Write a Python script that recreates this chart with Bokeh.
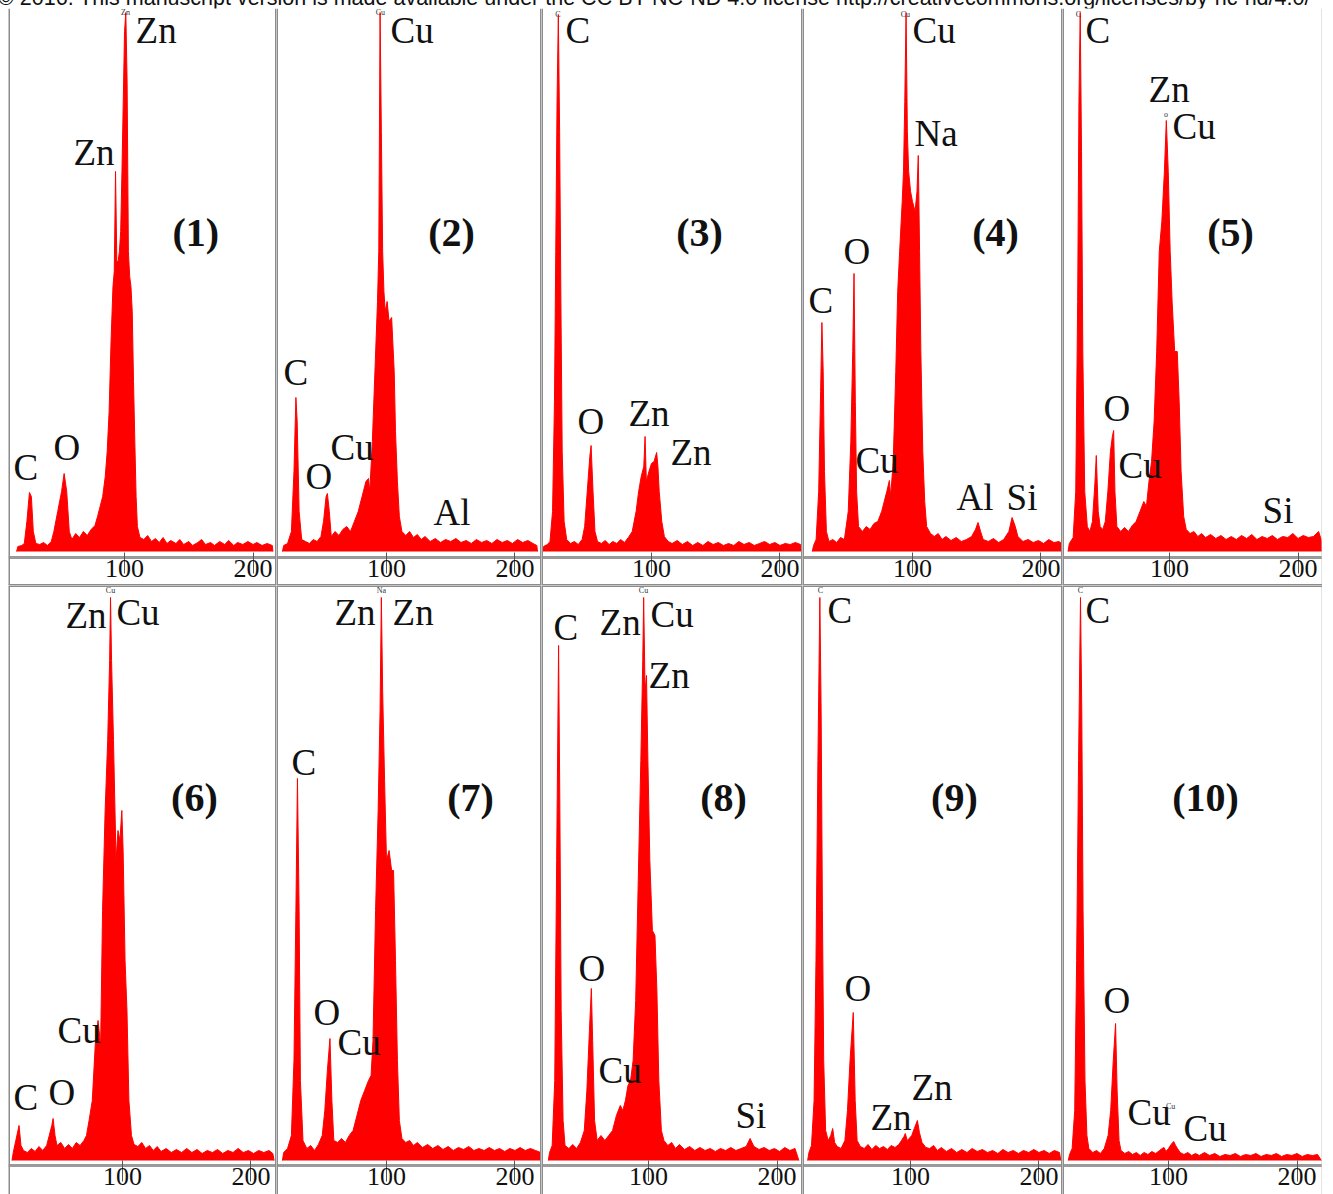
from bokeh.plotting import figure
from bokeh.models import Range1d, LinearAxis, FixedTicker, Span, Div
from bokeh.layouts import row, column
from bokeh.core.properties import value
from bokeh.embed import file_html
from bokeh.resources import INLINE

header_text = ("© 2016. This manuscript version is made available under the CC BY-NC-ND 4.0 "
               "license http://creativecommons.org/licenses/by-nc-nd/4.0/")

tick_values = [100, 200]
panel_names = ["(1)", "(2)", "(3)", "(4)", "(5)", "(6)", "(7)", "(8)", "(9)", "(10)"]

# ---- spectra: (channel, counts) vertices ----
p1_pts = [(16,0),(17,5),(20,6),(22,8),(24,30),(26,59),(27.5,55),(29,20),(31,8),(34,7),(37,9),(40,6),
          (43,10),(45,20),(48,40),(51,60),(53,78),(55,60),(57,20),(59,12),(62,18),(65,14),(68,20),(71,16),
          (74,22),(77,26),(79,35),(81,45),(83,55),(85,75),(86.5,100),(88,140),(89.5,210),(91,265),(92,280),
          (93,380),(94,290),(95,290),(96,300),(97,320),(98,380),(99,450),(100,520),(101,539),(102,470),
          (103,300),(104,275),(105,265),(106,240),(107,170),(108,110),(109,55),(110,25),(112,14),(115,12),
          (118,16),(121,10),(124,13),(127,9),(130,14),(133,8),(136,11),(140,8),(143,12),(146,7),(150,10),
          (153,6),(157,9),(160,12),(163,7),(167,9),(170,6),(174,10),(178,7),(181,11),(185,6),(188,9),
          (192,7),(196,10),(200,7),(203,9),(207,6),(211,8),(215,6),(215.5,0)]
p2_pts = [(19,0),(20,6),(23,8),(26,20),(28,80),(29.5,154),(30.5,130),(32,40),(34,12),(37,10),(40,8),
          (43,12),(46,10),(49,15),(51,30),(53,55),(54,58),(55.5,40),(57,15),(60,20),(63,16),(66,22),
          (69,25),(72,20),(75,30),(78,40),(81,55),(84,70),(86,73),(87,60),(89,110),(91,180),(93,250),
          (94,300),(95,539),(96,420),(97,300),(98,260),(99,240),(100.5,250),(102,230),(104,234),(106,180),
          (107,120),(108.5,70),(110,35),(112,20),(115,16),(118,20),(121,14),(124,17),(127,12),(130,15),
          (134,10),(138,13),(142,9),(146,12),(150,10),(154,13),(158,9),(162,11),(166,8),(170,12),(174,9),
          (178,11),(182,8),(186,12),(190,9),(194,11),(198,8),(202,12),(206,9),(210,11),(214,8),(217,6),
          (217.5,0)]
p3_pts = [(15,0),(16,5),(19,7),(21,10),(23,40),(24.5,150),(25.5,300),(26.5,450),(27.5,537),(28.5,420),
          (29.5,250),(30.5,100),(32,30),(34,12),(37,8),(40,10),(43,7),(46,12),(48,25),(50,60),(52,95),
          (53,106),(54.5,60),(56,20),(58,10),(61,8),(64,11),(67,7),(70,10),(73,8),(76,12),(79,9),(82,14),
          (85,20),(88,40),(90,60),(92,75),(94,85),(95,115),(96,70),(98,80),(100,88),(102,90),(104,99),
          (105,85),(106,60),(108,30),(110,15),(113,10),(116,8),(120,11),(124,7),(128,10),(132,6),(136,9),
          (140,6),(144,10),(148,7),(152,9),(156,6),(160,8),(164,6),(168,10),(172,7),(176,9),(180,6),
          (184,8),(188,10),(192,7),(196,9),(200,6),(204,8),(208,7),(212,9),(216,7),(217,0)]
p4_pts = [(22,0),(23,6),(25,12),(27,60),(28.5,160),(29.5,229),(30.5,180),(31.5,80),(33,20),(35,10),
          (38,12),(41,9),(44,14),(47,12),(50,40),(52,110),(53.5,200),(54.5,278),(55.5,150),(56.5,60),
          (58,25),(61,20),(64,25),(67,22),(70,28),(73,30),(76,40),(78,50),(80,60),(82,71),(83,55),(85,90),
          (87,180),(88.5,260),(90,300),(92,350),(93,380),(94,450),(95,539),(96,420),(97,380),(98.5,360),
          (100,350),(102,340),(103.5,360),(104.5,396),(105.5,300),(106.5,200),(108,100),(109.5,50),
          (111,25),(114,18),(117,15),(120,18),(123,12),(126,15),(130,11),(134,14),(138,10),(142,12),
          (146,15),(149,22),(151,29),(153,20),(155,12),(159,10),(163,13),(167,9),(171,12),(175,20),
          (177.5,34),(180,25),(182,15),(186,10),(190,12),(194,9),(198,11),(202,8),(206,12),(210,9),
          (214,10),(216,8),(216.5,0)]
p5_pts = [(21,0),(22,8),(25,14),(27,60),(28.5,250),(29.5,450),(30.5,539),(31.5,400),(32.5,200),(34,60),
          (36,25),(38,20),(40,30),(42,70),(43,96),(44.5,40),(46,25),(48,22),(50,30),(52,60),(54,100),
          (55.5,115),(56.5,121),(57.5,60),(59,25),(62,20),(65,24),(68,20),(71,26),(74,30),(77,40),(80,50),
          (82,45),(84,70),(86,90),(88,130),(90,200),(92,300),(94,330),(96,380),(97.5,431),(99,380),
          (100.5,300),(102,250),(104,200),(106,200),(107.5,150),(109,80),(111,35),(113,22),(116,18),
          (119,20),(122,15),(125,18),(128,14),(132,17),(136,13),(140,16),(144,12),(148,15),(152,12),
          (156,16),(160,13),(164,17),(168,12),(172,15),(176,13),(180,16),(184,12),(188,15),(192,14),
          (196,18),(200,13),(204,16),(208,14),(212,15),(216,20),(218,12),(219,0)]
p6_pts = [(14,0),(15,8),(17,20),(19.5,35),(21,15),(23,10),(26,8),(29,12),(32,9),(35,14),(38,10),(41,15),
          (43,25),(45,35),(46,42),(47.5,25),(49,15),(52,18),(55,12),(58,16),(61,12),(64,18),(67,15),
          (70,20),(72,25),(74,40),(76.5,60),(79,120),(81,140),(83,115),(84.5,250),(86.5,350),(88.5,420),
          (90,500),(90.7,563),(91.5,500),(93,420),(95,300),(96.5,330),(98,320),(99.5,350),(100.5,310),
          (102,200),(103.5,150),(105,60),(107,25),(109,16),(112,14),(115,18),(118,12),(121,15),(124,10),
          (127,14),(130,9),(134,12),(138,8),(142,11),(146,8),(150,12),(154,8),(158,11),(162,7),(166,10),
          (170,8),(174,11),(178,7),(182,10),(186,8),(190,12),(194,8),(198,10),(202,7),(206,10),(210,8),
          (214,10),(217,7),(218,0)]
p7_pts = [(19,0),(20,8),(23,12),(26,25),(28,100),(29.5,250),(30.7,382),(32,250),(33,80),(35,20),(38,12),
          (41,15),(44,10),(47,16),(50,25),(52,50),(54,90),(56,122),(57.5,60),(59,20),(62,18),(65,22),
          (68,18),(71,25),(74,30),(77,45),(80,60),(83,70),(86,80),(88,85),(89.5,120),(91.5,250),
          (93.5,350),(95,450),(96,563),(97,470),(98.5,380),(100,300),(102,310),(104,290),(105.5,290),
          (107,200),(108.5,100),(110,40),(112,22),(115,18),(118,20),(121,15),(124,18),(128,13),(132,16),
          (136,12),(140,15),(144,11),(148,14),(152,10),(156,13),(160,11),(164,14),(168,10),(172,12),
          (176,10),(180,13),(184,10),(188,12),(192,9),(196,12),(200,10),(204,13),(208,10),(212,12),
          (216,10),(220,8),(220.5,0)]
p8_pts = [(22,0),(23,8),(25,15),(27,80),(28.5,300),(30,515),(31,350),(32,150),(33.5,40),(35,15),(38,12),
          (41,16),(44,12),(47,18),(50,30),(52,70),(54,130),(55.5,172),(56.5,120),(58,40),(60,20),(63,25),
          (66,20),(69,25),(72,30),(75,45),(78,55),(80,50),(82,60),(84,75),(86,80),(88,100),(90,160),
          (92,280),(94,400),(95.5,500),(96.2,563),(97.3,470),(98.4,485),(99.5,400),(101,300),(103,230),
          (105,225),(106.5,170),(108,80),(110,30),(112,20),(115,15),(118,18),(121,12),(124,16),(128,11),
          (132,14),(136,10),(140,13),(144,10),(148,12),(152,9),(156,12),(160,10),(164,13),(168,10),
          (172,12),(176,14),(179,22),(182,14),(186,11),(190,13),(194,10),(198,12),(202,9),(206,13),
          (210,10),(214,12),(217,0)]
p9_pts = [(20,0),(21,8),(23,15),(25,60),(26.5,200),(28,400),(29.5,563),(30.5,450),(31.5,250),(32.5,100),
          (34,30),(36,20),(38,25),(39.5,32),(41,18),(43,14),(46,12),(49,20),(51,50),(53,100),(55.5,148),
          (57,60),(58.5,20),(61,14),(64,12),(67,16),(70,11),(73,15),(76,12),(79,14),(82,11),(85,15),
          (88,13),(91,16),(93,20),(95,24),(96,27),(97.5,20),(99,22),(101,25),(103,32),(105.4,40),(107,28),
          (109,18),(112,13),(115,12),(118,15),(121,10),(124,13),(128,9),(132,12),(136,8),(140,11),(144,8),
          (148,12),(152,9),(156,11),(160,8),(164,10),(168,7),(172,11),(176,8),(180,10),(184,7),(188,10),
          (192,8),(196,11),(200,8),(204,10),(208,7),(212,10),(216,8),(217,0)]
p10_pts = [(22,0),(23,6),(25,12),(27,50),(28.5,200),(30,400),(31.5,563),(32.5,450),(33.5,250),(35,80),
           (36.5,25),(38,12),(41,8),(44,10),(47,7),(50,12),(53,25),(55,50),(57,100),(58.8,137),(60,70),
           (61.5,20),(63,10),(66,7),(69,9),(72,6),(75,8),(78,5),(81,8),(84,6),(87,9),(90,7),(93,10),
           (95,12),(96.5,13),(98,9),(100,12),(102,16),(104,19),(105.5,15),(107,12),(109,8),(112,6),
           (115,8),(118,5),(121,7),(124,5),(128,8),(132,5),(136,7),(140,4),(144,6),(148,5),(152,7),
           (156,4),(160,6),(164,5),(168,7),(172,4),(176,6),(180,5),(184,7),(188,4),(192,6),(196,5),
           (200,7),(204,4),(208,6),(212,5),(216,6),(219,0)]

# ---- element labels: (text, channel, counts) ----
p1_labels = [("Zn", 108.6, 521), ("Zn", 60.2, 399), ("C", 13.6, 84), ("O", 44.7, 104)]
p2_labels = [("Cu", 103.1, 521), ("C", 19.8, 179), ("O", 37.0, 75), ("Cu", 56.4, 104), ("Al", 136.6, 39)]
p3_labels = [("C", 33.1, 521), ("O", 42.4, 130), ("Zn", 82.1, 138), ("Zn", 114.8, 99)]
p4_labels = [("Cu", 100.0, 521), ("Na", 101.6, 418), ("C", 19.0, 251), ("O", 46.3, 300),
             ("Cu", 55.6, 91), ("Al", 134.2, 54), ("Si", 173.2, 54)]
p5_labels = [("C", 34.6, 521), ("Zn", 83.7, 462), ("Cu", 102.3, 425), ("O", 48.6, 143),
             ("Cu", 60.3, 86), ("Si", 172.4, 41)]
p6_labels = [("Zn", 55.6, 545), ("Cu", 95.3, 548), ("Cu", 49.4, 130), ("C", 15.2, 63), ("O", 42.4, 68)]
p7_labels = [("Zn", 59.5, 548), ("Zn", 104.7, 548), ("C", 26.0, 398), ("O", 43.2, 148), ("Cu", 61.9, 118)]
p8_labels = [("C", 26.1, 533), ("Zn", 61.9, 538), ("Cu", 101.6, 546), ("Zn", 100.0, 485),
             ("O", 45.5, 192), ("Cu", 61.1, 90), ("Si", 167.7, 45)]
p9_labels = [("C", 35.4, 550), ("O", 48.6, 172), ("Zn", 68.9, 43), ("Zn", 100.8, 73)]
p10_labels = [("C", 35.4, 550), ("O", 49.4, 160), ("Cu", 68.1, 48), ("Cu", 111.7, 32)]

# tiny peak markers printed at the peak tops
p1_tiny = [("Zn", 100.8, 535)]
p2_tiny = [("Cu", 95.3, 535)]
p3_tiny = [("C", 27.2, 533)]
p4_tiny = [("Cu", 94.5, 533)]
p5_tiny = [("C", 29.0, 533), ("o", 97.2, 433)]
p6_tiny = [("Cu", 90.7, 566)]
p7_tiny = [("Na", 96.0, 566)]
p8_tiny = [("Cu", 96.1, 566)]
p9_tiny = [("C", 30.0, 566)]
p10_tiny = [("C", 31.5, 566), ("Cu", 101.6, 50)]

# panel number anchors (channel, counts)
name_pos = [(155.5, 319), (150.6, 319), (137.4, 319), (164.6, 319), (147.5, 319),
            (156.0, 363), (165.4, 363), (158.4, 363), (134.2, 363), (128.8, 363)]

spectra = [p1_pts, p2_pts, p3_pts, p4_pts, p5_pts, p6_pts, p7_pts, p8_pts, p9_pts, p10_pts]
labels = [p1_labels, p2_labels, p3_labels, p4_labels, p5_labels,
          p6_labels, p7_labels, p8_labels, p9_labels, p10_labels]
tiny = [p1_tiny, p2_tiny, p3_tiny, p4_tiny, p5_tiny, p6_tiny, p7_tiny, p8_tiny, p9_tiny, p10_tiny]

# ---- layout ----
col_widths = [268, 265, 261, 260, 260]
row_heights = [577, 609]
row_y_ranges = [(-34, 543), (-34, 575)]
axis_y = [-6, -5]
x_starts = [[9.7, 14.4, 14.4, 14.4, 16.7], [11.3, 14.4, 16.7, 16.0, 17.5]]
px_per_unit = 1.285

RED = "#ff0000"
BORDER = "#8c8c8c"
SERIF = "Liberation Serif"

rows = []
for r in range(2):
    figs = []
    for c in range(5):
        i = r * 5 + c
        w = col_widths[c]
        h = row_heights[r]
        xs = x_starts[r][c]
        xe = xs + w / px_per_unit
        y0, y1 = row_y_ranges[r]
        p = figure(width=w, height=h, x_range=Range1d(xs, xe), y_range=Range1d(y0, y1),
                   output_backend="svg", toolbar_location=None, min_border=0,
                   x_axis_location=None, y_axis_location=None,
                   background_fill_color="white", border_fill_color="white",
                   outline_line_color=None, margin=0)
        p.grid.visible = False

        pts = spectra[i]
        cx = [a for a, b in pts]
        cy = [b for a, b in pts]
        p.varea(x=cx, y1=0, y2=cy, fill_color=RED)
        p.line(cx, cy, line_color=RED, line_width=1)

        ax = LinearAxis(ticker=FixedTicker(ticks=tick_values), fixed_location=axis_y[r],
                        axis_line_color="#9a9a9a", axis_line_width=3,
                        major_tick_line_color="#555555", major_tick_in=5, major_tick_out=16,
                        minor_tick_line_color=None, major_label_standoff=-14,
                        major_label_text_font=SERIF, major_label_text_font_size="26px",
                        major_label_text_color="#111111")
        p.add_layout(ax, "below")

        # panel borders
        p.add_layout(Span(location=xs, dimension="height", line_color=BORDER, line_width=3))
        if c == 4:
            p.add_layout(Span(location=xe, dimension="height", line_color="#c8c8c8", line_width=2))
        else:
            p.add_layout(Span(location=xe, dimension="height", line_color=BORDER, line_width=3))
        if r == 0:
            p.add_layout(Span(location=y0, dimension="width", line_color=BORDER, line_width=3))
        else:
            p.add_layout(Span(location=y1, dimension="width", line_color=BORDER, line_width=3))

        lab = labels[i]
        p.text(x=[l[1] for l in lab], y=[l[2] for l in lab], text=[l[0] for l in lab],
               text_font=value(SERIF), text_font_size="37px", text_color="#111111",
               text_align="left", text_baseline="middle")

        tl = tiny[i]
        p.text(x=[l[1] for l in tl], y=[l[2] for l in tl], text=[l[0] for l in tl],
               text_font=value(SERIF), text_font_size="8px", text_color="#333333",
               text_align="center", text_baseline="bottom")

        nx, ny = name_pos[i]
        p.text(x=[nx], y=[ny], text=[panel_names[i]], text_font=value(SERIF),
               text_font_size="40px", text_font_style="bold", text_color="#111111",
               text_align="center", text_baseline="middle")
        figs.append(p)
    rows.append(row(*figs, margin=0))

header = Div(text=('<div style="position:relative;top:-14px;left:-10px;white-space:nowrap;'
                   'font-family:\'Liberation Sans\',Arial,sans-serif;font-size:21.5px;'
                   'line-height:24px;color:#111;">' + header_text + '</div>'),
             width=1314, height=8, margin=0, styles={"overflow": "visible"})

layout = column(header, rows[0], rows[1], margin=(0, 0, 0, 8))
open("out.html", "w").write(file_html(layout, INLINE))
